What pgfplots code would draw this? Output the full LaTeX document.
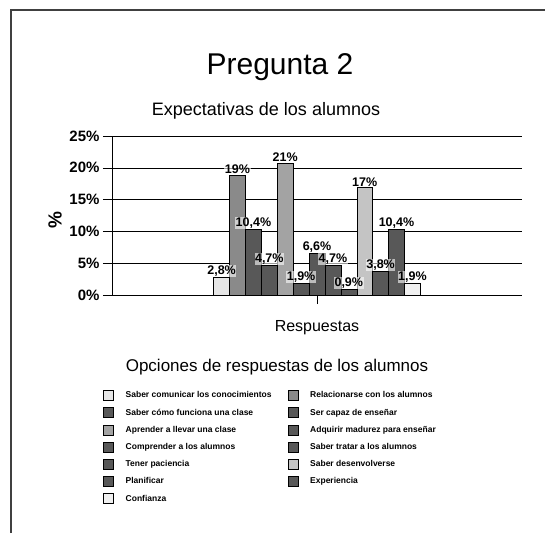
\documentclass[border=0pt]{standalone}
\usepackage{pgfplots}
\pgfplotsset{compat=1.18}
\usepackage{fontspec}
\setmainfont{Liberation Sans}
\definecolor{cA}{HTML}{E6E6E6}
\definecolor{cB}{HTML}{8A8A8A}
\definecolor{cD}{HTML}{585858}
\definecolor{cE}{HTML}{A3A3A3}
\definecolor{cJ}{HTML}{C4C4C4}
\definecolor{cM}{HTML}{F0F0F0}
\newcommand{\fs}[1]{\fontsize{#1}{#1}\selectfont}
\newcommand{\lb}[1]{\makebox[150pt][l]{#1}}
\begin{document}
\begin{tikzpicture}[x=1pt,y=1pt]
\useasboundingbox (0,0) rectangle (545,533);
\draw[line width=1.2pt, black!75] (11,0) -- (11,523) -- (545,523);
\node[font=\fs{30}] at (280,466) {Pregunta 2};
\node[font=\fs{18}] at (266,422) {Expectativas de los alumnos};
\node[font=\fs{17}] at (277,166) {Opciones de respuestas de los alumnos};
\begin{axis}[
  at={(112pt,238pt)}, anchor=south west,
  scale only axis, width=410pt, height=159pt,
  ybar=0pt, bar width=15.9pt,
  xmin=-1, xmax=1, ymin=0, ymax=25,
  xtick={0}, xticklabels={},
  ytick={0,5,10,15,20,25},
  yticklabels={0\%,5\%,10\%,15\%,20\%,25\%},
  yticklabel style={font=\bfseries\fs{15}},
  tick align=outside, major tick length=9pt,
  tick style={black, line width=0.6pt},
  axis x line*=bottom, axis y line*=left,
  axis line style={black, line width=0.7pt, -},
  ymajorgrids, grid style={black, line width=0.6pt},
  xlabel={Respuestas},
  xlabel style={at={(axis description cs:0.5,-0.2075)}, anchor=center, font=\fs{16}},
  ylabel={\%},
  ylabel style={at={(axis description cs:-0.139,0.472)}, anchor=center, rotate=0, font=\bfseries\fs{19}},
  point meta=explicit symbolic,
  nodes near coords,
  every node near coord/.append style={font=\bfseries\fs{12.5}, inner sep=0.5pt, anchor=south, fill=white, fill opacity=0.6, text opacity=1},
  legend columns=2,
  legend cell align=left,
  legend image code/.code={\draw[#1, draw=black, line width=0.5pt] (0pt,-5pt) rectangle (10pt,5pt);},
  legend style={at={(axis description cs:-0.022,-0.597)}, anchor=north west, draw=none,
    inner sep=0pt, column sep=12pt, row sep=6.7pt,
    nodes={inner sep=0pt, text height=7pt, text depth=2pt, font=\bfseries\fs{8.5}}},
]
\addplot[fill=cA, draw=black] coordinates {(0,2.8) [{2,8\%}]};
\addplot[fill=cB, draw=black] coordinates {(0,18.9) [{19\%}]};
\addplot[fill=cD, draw=black] coordinates {(0,10.4) [{10,4\%}]};
\addplot[fill=cD, draw=black] coordinates {(0,4.7) [{4,7\%}]};
\addplot[fill=cE, draw=black] coordinates {(0,20.8) [{21\%}]};
\addplot[fill=cD, draw=black] coordinates {(0,1.9) [{1,9\%}]};
\addplot[fill=cD, draw=black] coordinates {(0,6.6) [{6,6\%}]};
\addplot[fill=cD, draw=black] coordinates {(0,4.7) [{4,7\%}]};
\addplot[fill=cD, draw=black] coordinates {(0,0.9) [{0,9\%}]};
\addplot[fill=cJ, draw=black] coordinates {(0,17.0) [{17\%}]};
\addplot[fill=cD, draw=black] coordinates {(0,3.8) [{3,8\%}]};
\addplot[fill=cD, draw=black] coordinates {(0,10.4) [{10,4\%}]};
\addplot[fill=cM, draw=black] coordinates {(0,1.9) [{1,9\%}]};
\legend{\lb{Saber comunicar los conocimientos}, Relacionarse con los alumnos,
  \lb{Saber cómo funciona una clase}, Ser capaz de enseñar,
  \lb{Aprender a llevar una clase}, Adquirir madurez para enseñar,
  \lb{Comprender a los alumnos}, Saber tratar a los alumnos,
  \lb{Tener paciencia}, Saber desenvolverse,
  \lb{Planificar}, Experiencia,
  \lb{Confianza}}
\end{axis}
\end{tikzpicture}
\end{document}
